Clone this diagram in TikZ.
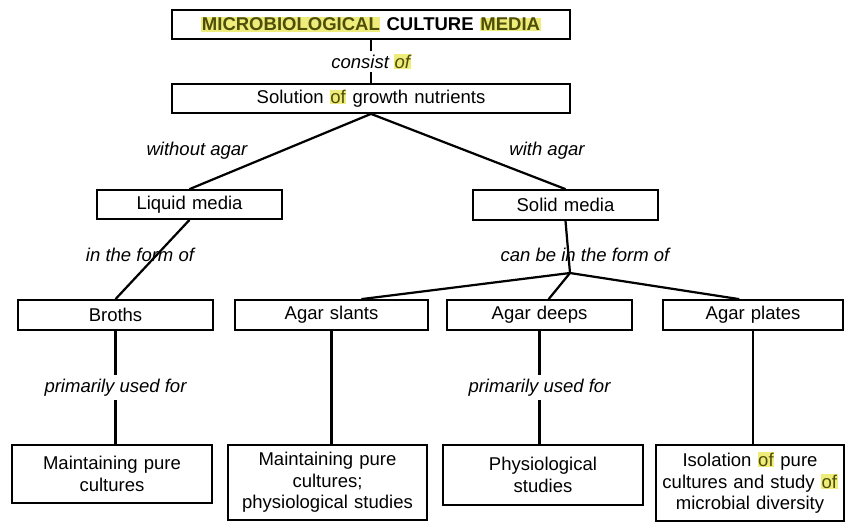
\documentclass[tikz,border=0pt]{standalone}
\usepackage{fontspec}
\setmainfont{Liberation Sans}
\usetikzlibrary{positioning,calc}
\definecolor{hlbg}{HTML}{EEEC7A}
\definecolor{hltext}{HTML}{4E4E08}
\newcommand{\hlword}[1]{{\setlength{\fboxsep}{0.5pt}\colorbox{hlbg}{\textcolor{hltext}{#1}}}}

\begin{document}
\begin{tikzpicture}[x=0.03cm, y=-0.03cm,
  box/.style={draw, line width=1.5pt, fill=white, inner sep=2pt, align=center, font=\fontsize{15.8}{18.5}\selectfont},
  lbl/.style={font=\fontsize{15.8}{18.5}\selectfont\itshape, inner sep=1pt},
  link/.style={line width=1.9pt}]
\useasboundingbox (0,0) rectangle (846,521);
% top
\node[box, text width=380*0.03cm, minimum width=398*0.03cm, minimum height=29*0.03cm] (title) at (371,24.5) {\bfseries\hlword{MICROBIOLOGICAL} CULTURE \hlword{MEDIA}};
\node[box, text width=380*0.03cm, minimum width=398*0.03cm, minimum height=29*0.03cm] (sol) at (371,98.5) {Solution \hlword{of} growth nutrients};
% second level
\node[box, text width=170*0.03cm, minimum width=185*0.03cm, minimum height=29*0.03cm] (liquid) at (189.5,204.5) {Liquid media};
\node[box, text width=170*0.03cm, minimum width=185*0.03cm, minimum height=30*0.03cm] (solid) at (565.5,205) {Solid media};
% third level
\node[box, text width=180*0.03cm, minimum width=195*0.03cm, minimum height=30*0.03cm] (broths) at (115.5,315) {Broths};
\node[box, text width=178*0.03cm, minimum width=193*0.03cm, minimum height=30*0.03cm] (slants) at (331.5,315) {Agar slants};
\node[box, text width=170*0.03cm, minimum width=185*0.03cm, minimum height=30*0.03cm] (deeps) at (539.5,315) {Agar deeps};
\node[box, text width=166*0.03cm, minimum width=180*0.03cm, minimum height=30*0.03cm] (plates) at (753,315) {Agar plates};
% uses
\node[box, text width=185*0.03cm, minimum width=200*0.03cm, minimum height=58*0.03cm] (use1) at (112,474) {Maintaining pure\\cultures};
\node[box, text width=185*0.03cm, minimum width=199*0.03cm, minimum height=75*0.03cm] (use2) at (327.5,482.5) {Maintaining pure\\cultures;\\physiological studies};
\node[box, text width=185*0.03cm, minimum width=200*0.03cm, minimum height=60*0.03cm] (use3) at (543,475) {Physiological\\studies};
\node[box, text width=180*0.03cm, minimum width=188*0.03cm, minimum height=76*0.03cm] (use4) at (750,483) {Isolation \hlword{of} pure\\cultures and study \hlword{of}\\microbial diversity};
\coordinate (fork) at (570,273);
% connectors
\draw[link] (title.south) -- (sol.north) node[midway, lbl, fill=white, inner sep=3pt] (consist) {consist \hlword{of}};
\draw[link] (sol.south) -- (liquid.north);
\draw[link] (sol.south) -- (solid.north);
\node[lbl] (without) at (197,151) {without agar};
\node[lbl] (with) at (547,151) {with agar};
\draw[link] (liquid.south) -- (broths.north);
\node[lbl] (formof) at (140,255) {in the form of};
\draw[link] (solid.south) -- (fork);
\node[lbl] (canbe) at (585,255) {can be in the form of};
\draw[link] (fork) -- (slants.28);
\draw[link] (fork) -- (deeps.60);
\draw[link] (fork) -- (plates.131);
\draw[link] (broths.south) -- (broths.south |- use1.north) node[midway, lbl, fill=white, inner sep=3pt] (used1) {primarily used for};
\draw[link] (slants.south) -- (slants.south |- use2.north);
\draw[link] (deeps.south) -- (deeps.south |- use3.north) node[midway, lbl, fill=white, inner sep=3pt] (used2) {primarily used for};
\draw[link] (plates.south) -- (plates.south |- use4.north);
\end{tikzpicture}
\end{document}
